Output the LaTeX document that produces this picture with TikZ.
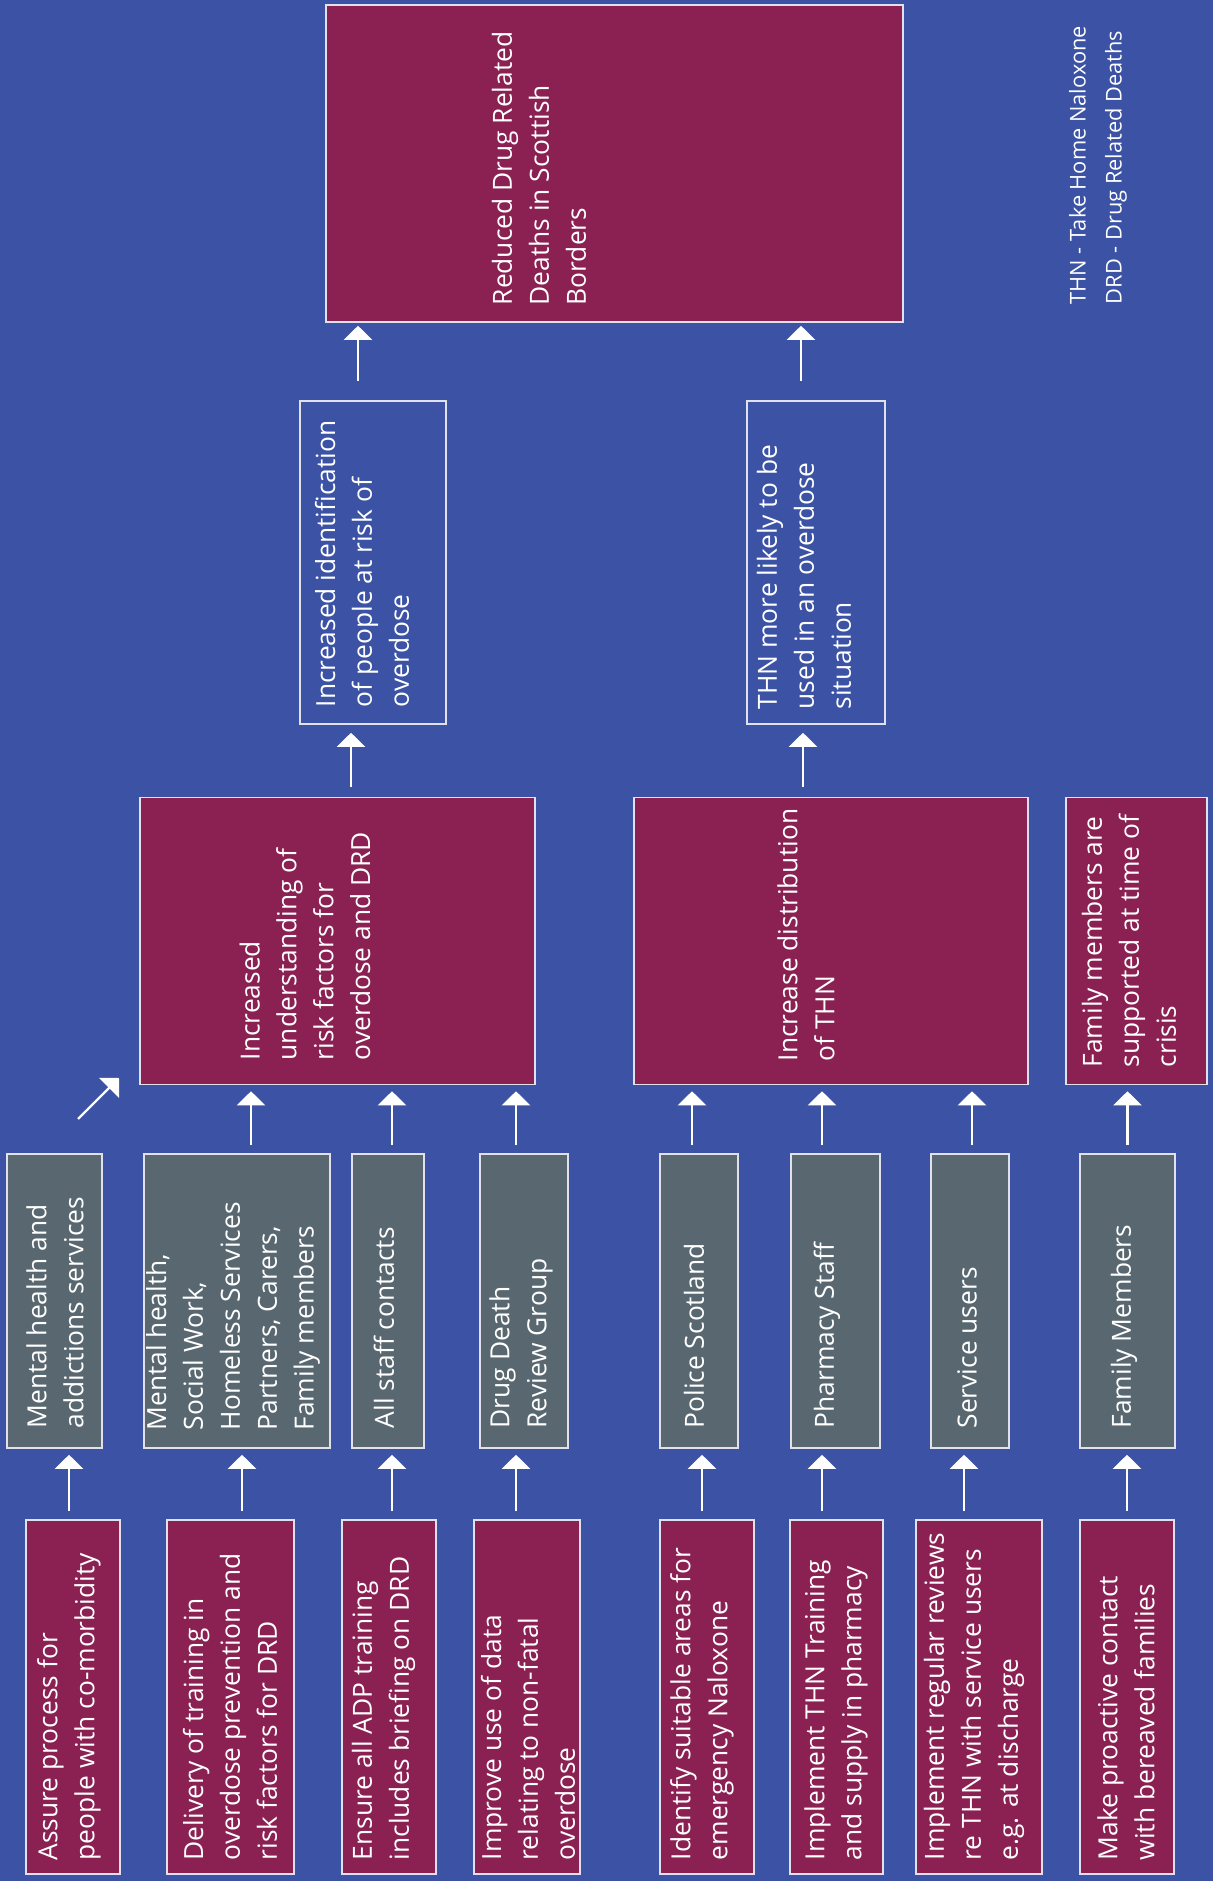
\documentclass[tikz,border=0pt]{standalone}
\usepackage{fontspec}
\setmainfont{Open Sans}
\usetikzlibrary{arrows.meta}
\definecolor{bgblue}{RGB}{59,82,165}
\definecolor{actfill}{RGB}{139,33,82}
\definecolor{whofill}{RGB}{89,104,112}
\definecolor{edgeline}{RGB}{225,225,235}

\begin{document}
\begin{tikzpicture}[
    box/.style={draw=edgeline, line width=0.45pt, inner sep=0pt},
    act/.style={box, fill=actfill},
    who/.style={box, fill=whofill},
    lbl/.style={rotate=90, anchor=west, align=left, inner sep=0pt, text=white,
        font=\fontsize{7.5}{10.5}\selectfont},
    flow/.style={draw=white, line width=0.7pt, -{Triangle[width=0.28cm,length=0.14cm]},
        shorten <=0.8mm, shorten >=0.6mm}
]
    % Background
    \fill[bgblue] (0,0) rectangle (12.13,18.81);
    \useasboundingbox (0,0) rectangle (12.13,18.81);

    % Actions (bottom row)
    \node[act, minimum width=0.94cm, minimum height=3.54cm] (a1) at (0.73,1.84) {};
    \node[act, minimum width=1.27cm, minimum height=3.54cm] (a2) at (2.305,1.84) {};
    \node[act, minimum width=0.94cm, minimum height=3.54cm] (a3) at (3.89,1.84) {};
    \node[act, minimum width=1.06cm, minimum height=3.54cm] (a4) at (5.27,1.84) {};
    \node[act, minimum width=0.94cm, minimum height=3.54cm] (b1) at (7.07,1.84) {};
    \node[act, minimum width=0.93cm, minimum height=3.54cm] (b2) at (8.365,1.84) {};
    \node[act, minimum width=1.26cm, minimum height=3.54cm] (b3) at (9.79,1.84) {};
    \node[act, minimum width=0.94cm, minimum height=3.54cm] (b4) at (11.27,1.84) {};

    \node[lbl] (ta1) at (0.69,0.20) {Assure process for\\people with co-morbidity};
    \node[lbl] (ta2) at (2.30,0.20) {Delivery of training in\\overdose prevention and\\risk factors for DRD};
    \node[lbl] (ta3) at (3.835,0.20) {Ensure all ADP training\\includes briefing on DRD};
    \node[lbl] (ta4) at (5.28,0.20) {Improve use of data\\relating to non-fatal\\overdose};
    \node[lbl] (tb1) at (7.02,0.20) {Identify suitable areas for\\emergency Naloxone};
    \node[lbl] (tb2) at (8.36,0.20) {Implement THN Training\\and supply in pharmacy};
    \node[lbl] (tb3) at (9.74,0.20) {Implement regular reviews\\re THN with service users\\e.g. at discharge};
    \node[lbl] (tb4) at (11.26,0.20) {Make proactive contact\\with bereaved families};

    % Who (grey row)
    \node[who, minimum width=0.95cm, minimum height=2.94cm] (g1) at (0.545,5.80) {};
    \node[who, minimum width=1.86cm, minimum height=2.94cm] (g2) at (2.37,5.80) {};
    \node[who, minimum width=0.72cm, minimum height=2.94cm] (g3) at (3.88,5.80) {};
    \node[who, minimum width=0.88cm, minimum height=2.94cm] (g4) at (5.24,5.80) {};
    \node[who, minimum width=0.78cm, minimum height=2.94cm] (g5) at (6.99,5.80) {};
    \node[who, minimum width=0.89cm, minimum height=2.94cm] (g6) at (8.355,5.80) {};
    \node[who, minimum width=0.78cm, minimum height=2.94cm] (g7) at (9.70,5.80) {};
    \node[who, minimum width=0.95cm, minimum height=2.94cm] (g8) at (11.275,5.80) {};

    \node[lbl] (tg1) at (0.55,4.52) {Mental health and\\addictions services};
    \node[lbl] (tg2) at (2.33,4.50) {Mental health,\\Social Work,\\Homeless Services\\Partners, Carers,\\Family members};
    \node[lbl] (tg3) at (3.84,4.52) {All staff contacts};
    \node[lbl] (tg4) at (5.21,4.52) {Drug Death\\Review Group};
    \node[lbl] (tg5) at (6.94,4.52) {Police Scotland};
    \node[lbl] (tg6) at (8.27,4.52) {Pharmacy Staff};
    \node[lbl] (tg7) at (9.67,4.52) {Service users};
    \node[lbl] (tg8) at (11.24,4.52) {Family Members};

    % Short term outcomes
    \node[act, minimum width=3.95cm, minimum height=2.87cm] (m1) at (3.375,9.40) {};
    \node[act, minimum width=3.94cm, minimum height=2.87cm] (m2) at (8.31,9.40) {};
    \node[act, minimum width=1.41cm, minimum height=2.87cm] (m3) at (11.365,9.40) {};

    \node[lbl] (tm1) at (3.05,8.20) {Increased\\understanding of\\risk factors for\\overdose and DRD};
    \node[lbl] (tm2) at (8.06,8.19) {Increase distribution\\of THN};
    \node[lbl] (tm3) at (11.29,8.13) {Family members are\\supported at time of\\crisis};

    % Medium term outcomes
    \node[box, minimum width=1.46cm, minimum height=3.23cm] (s1) at (3.73,13.185) {};
    \node[box, minimum width=1.38cm, minimum height=3.23cm] (s2) at (8.16,13.185) {};

    \node[lbl] (ts1) at (3.62,11.73) {Increased identification\\of people at risk of\\overdose};
    \node[lbl] (ts2) at (8.04,11.71) {THN more likely to be\\used in an overdose\\situation};

    % Long term outcome
    \node[act, minimum width=5.77cm, minimum height=3.17cm] (goal) at (6.145,17.175) {};
    \node[lbl] (tgoal) at (5.39,15.75) {Reduced Drug Related\\Deaths in Scottish\\Borders};

    % Key
    \node[lbl, font=\fontsize{6.2}{10.2}\selectfont] (key) at (10.98,15.76)
        {THN - Take Home Naloxone\\DRD - Drug Related Deaths};

    % Arrows: actions -> who
    \draw[flow] (a1.north) ++(-0.04,0) coordinate (p) -- (p |- g1.south);
    \draw[flow] (a2.north) ++(0.115,0) coordinate (p) -- (p |- g2.south);
    \draw[flow] (a3.north) ++(0.03,0) coordinate (p) -- (p |- g3.south);
    \draw[flow] (a4.north) ++(-0.11,0) coordinate (p) -- (p |- g4.south);
    \draw[flow] (b1.north) ++(-0.05,0) coordinate (p) -- (p |- g5.south);
    \draw[flow] (b2.north) ++(-0.145,0) coordinate (p) -- (p |- g6.south);
    \draw[flow] (b3.north) ++(-0.15,0) coordinate (p) -- (p |- g7.south);
    \draw[flow] (b4.north) coordinate (p) -- (p |- g8.south);

    % Arrows: who -> short term
    \draw[flow] (g2.north) ++(0.14,0) coordinate (p) -- (p |- m1.south);
    \draw[flow] (g3.north) ++(0.04,0) coordinate (p) -- (p |- m1.south);
    \draw[flow] (g4.north) ++(-0.08,0) coordinate (p) -- (p |- m1.south);
    \draw[flow] (g5.north) ++(-0.07,0) coordinate (p) -- (p |- m2.south);
    \draw[flow] (g6.north) ++(-0.135,0) coordinate (p) -- (p |- m2.south);
    \draw[flow] (g7.north) ++(0.02,0) coordinate (p) -- (p |- m2.south);
    \draw[flow] (g8.north) coordinate (p) -- (p |- m3.south);
    \coordinate (dfrom) at (0.78,7.62);
    \coordinate (dto) at (1.19,8.03);
    \draw[flow, shorten <=0pt, shorten >=0pt] (dfrom) -- (dto);

    % Arrows: short term -> medium term -> goal
    \draw[flow, shorten <=1mm, shorten >=0.8mm] (m1.north) ++(0.135,0) coordinate (p) -- (p |- s1.south);
    \draw[flow, shorten <=1mm, shorten >=0.8mm] (m2.north) ++(-0.28,0) coordinate (p) -- (p |- s2.south);
    \draw[flow, shorten <=1.9mm, shorten >=0.3mm] (s1.north) ++(-0.15,0) coordinate (p) -- (p |- goal.south);
    \draw[flow, shorten <=1.9mm, shorten >=0.3mm] (s2.north) ++(-0.15,0) coordinate (p) -- (p |- goal.south);
\end{tikzpicture}
\end{document}
